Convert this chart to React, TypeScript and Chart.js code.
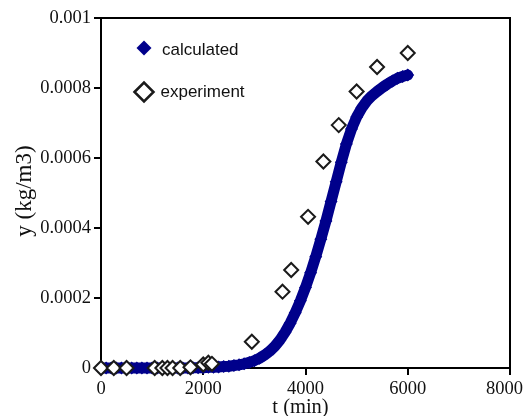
import { useEffect, useRef } from 'react';
import { Chart, registerables } from 'chart.js';

Chart.register(...registerables);

// ---- data ----
const tCalc = [
  0, 100, 200, 300, 400, 500, 600, 700, 800, 900,
  1000, 1100, 1200, 1300, 1400, 1500, 1600, 1700, 1800, 1900,
  2000, 2100, 2200, 2300, 2400, 2500, 2600, 2700, 2800, 2900,
  3000, 3100, 3200, 3300, 3400, 3500, 3600, 3700, 3800, 3900,
  4000, 4100, 4200, 4300, 4400, 4500, 4600, 4700, 4800, 4900,
  5000, 5100, 5200, 5300, 5400, 5500, 5600, 5700, 5800, 5900,
  6000,
];
const yCalc = [
  0, 0, 0, 0, 0, 0, 0, 0, 0, 0,
  0, 0, 0, 0, 0, 0, 0, 0, 0.000001, 0.000001,
  0.000001, 0.000002, 0.000002, 0.000003, 0.000004, 0.000005, 0.000007, 0.000009, 0.000012, 0.000016,
  0.000021, 0.000028, 0.000037, 0.000048, 0.000062, 0.00008, 0.000102, 0.000128, 0.000158, 0.000192,
  0.00023, 0.000272, 0.000318, 0.000368, 0.00042, 0.000476, 0.000532, 0.000588, 0.00064, 0.000683,
  0.000717, 0.000743, 0.000763, 0.000778, 0.00079, 0.000801, 0.000811, 0.00082, 0.000828, 0.000833,
  0.000837,
];
const tExp = [0, 250, 500, 1050, 1200, 1300, 1400, 1550, 1750, 2000, 2100, 2170, 2950, 3550, 3720, 4050, 4350, 4650, 5000, 5400, 6000];
const yExp = [0, 0, 0, 0, 0, 0, 0, 0, 0.000002, 0.00001, 0.000015, 0.000012, 0.000075, 0.000218, 0.00028, 0.000432, 0.00059, 0.000694, 0.00079, 0.00086, 0.0009];

const xTickValues = [0, 2000, 4000, 6000, 8000];
const seriesNames = ['calculated', 'experiment'];
const xTitle = 't (min)';
const yTitle = 'y (kg/m3)';

const NAVY = '#00008B';
const INK = '#111111';
const SERIF = '"Liberation Serif", "Times New Roman", serif';
const SANS = '"Liberation Sans", Arial, sans-serif';

const fmtY = (v: number) => String(+Number(v).toFixed(4));

const decorPlugin = {
  id: 'decor',
  beforeDatasetsDraw(chart: any) {
    const { ctx, chartArea: a } = chart;
    ctx.save();
    // top and right frame
    ctx.strokeStyle = '#000';
    ctx.lineWidth = 2;
    ctx.beginPath();
    ctx.moveTo(a.left, a.top);
    ctx.lineTo(a.right, a.top);
    ctx.lineTo(a.right, a.bottom);
    ctx.stroke();

    // x tick labels (kept inside canvas)
    const xs = chart.scales.x;
    ctx.font = `18.5px ${SERIF}`;
    ctx.fillStyle = INK;
    ctx.textAlign = 'center';
    ctx.textBaseline = 'middle';
    xTickValues.forEach((v) => {
      const label = String(v);
      const px = xs.getPixelForValue(v);
      const w = ctx.measureText(label).width;
      const cx = Math.min(px, chart.width - w / 2);
      ctx.fillText(label, cx, a.bottom + 21);
    });

    // axis titles
    ctx.font = `20.5px ${SERIF}`;
    ctx.fillText(xTitle, (a.left + a.right) / 2 - 5, a.bottom + 40);
    ctx.save();
    ctx.translate(25, (a.top + a.bottom) / 2 - 2);
    ctx.rotate(-Math.PI / 2);
    ctx.font = `23px ${SERIF}`;
    ctx.fillText(yTitle, 0, 0);
    ctx.restore();
    ctx.restore();
  },
  afterDatasetsDraw(chart: any) {
    const { ctx, chartArea: a } = chart;
    ctx.save();
    // calculated
    let cx = a.left + 43;
    let cy = a.top + 30;
    let r = 7.5;
    ctx.beginPath();
    ctx.moveTo(cx - r, cy);
    ctx.lineTo(cx, cy - r);
    ctx.lineTo(cx + r, cy);
    ctx.lineTo(cx, cy + r);
    ctx.closePath();
    ctx.fillStyle = NAVY;
    ctx.fill();
    ctx.font = `17px ${SANS}`;
    ctx.fillStyle = INK;
    ctx.textAlign = 'left';
    ctx.textBaseline = 'alphabetic';
    ctx.fillText(seriesNames[0], a.left + 61, a.top + 36.5);
    // experiment
    cx = a.left + 43;
    cy = a.top + 74;
    r = 9.5;
    ctx.beginPath();
    ctx.moveTo(cx - r, cy);
    ctx.lineTo(cx, cy - r);
    ctx.lineTo(cx + r, cy);
    ctx.lineTo(cx, cy + r);
    ctx.closePath();
    ctx.fillStyle = '#fff';
    ctx.fill();
    ctx.lineWidth = 2.5;
    ctx.strokeStyle = '#1a1a1a';
    ctx.stroke();
    ctx.fillStyle = INK;
    ctx.fillText(seriesNames[1], a.left + 59.5, a.top + 79);
    ctx.restore();
  },
};

export default function App() {
  const ref = useRef<HTMLCanvasElement | null>(null);

  useEffect(() => {
    document.body.style.margin = '0';
    const canvas = ref.current;
    if (!canvas) return;
    const chart = new Chart(canvas, {
      type: 'scatter',
      data: {
        datasets: [
          {
            label: seriesNames[1],
            data: tExp.map((t, i) => ({ x: t, y: yExp[i] })),
            showLine: false,
            pointStyle: 'rectRot',
            pointRadius: 7,
            pointHoverRadius: 7,
            pointBackgroundColor: '#ffffff',
            pointBorderColor: '#1a1a1a',
            pointBorderWidth: 2,
            order: 0,
            clip: false,
          } as any,
          {
            label: seriesNames[0],
            data: tCalc.map((t, i) => ({ x: t, y: yCalc[i] })),
            showLine: true,
            borderColor: NAVY,
            borderWidth: 11,
            borderJoinStyle: 'round',
            borderCapStyle: 'round',
            tension: 0,
            pointStyle: 'rectRot',
            pointRadius: 6.5,
            pointHoverRadius: 6.5,
            pointBackgroundColor: NAVY,
            pointBorderWidth: 0,
            order: 1,
            clip: false,
          } as any,
        ],
      },
      options: {
        responsive: false,
        animation: false,
        devicePixelRatio: 1,
        layout: { padding: { top: 18, right: 13, left: 0, bottom: 0 } },
        plugins: {
          legend: { display: false },
          tooltip: { enabled: false },
        },
        scales: {
          x: {
            type: 'linear',
            min: 0,
            max: 8000,
            ticks: { stepSize: 2000, color: 'rgba(0,0,0,0)', font: { size: 18, family: SERIF } },
            grid: { drawOnChartArea: false, drawTicks: true, tickLength: 7, color: '#000', lineWidth: 2 },
            border: { display: true, color: '#000', width: 2 },
            afterFit(s: any) {
              s.height = 48;
              s.paddingLeft = 0;
              s.paddingRight = 0;
            },
          },
          y: {
            type: 'linear',
            min: 0,
            max: 0.001,
            ticks: {
              stepSize: 0.0002,
              color: INK,
              padding: 3,
              font: { size: 18.5, family: SERIF },
              callback: (v: any) => fmtY(v),
            },
            grid: { drawOnChartArea: false, drawTicks: true, tickLength: 7, color: '#000', lineWidth: 2 },
            border: { display: true, color: '#000', width: 2 },
            afterFit(s: any) {
              s.width = 101;
              s.paddingTop = 0;
              s.paddingBottom = 0;
            },
          },
        },
      } as any,
      plugins: [decorPlugin],
    });
    return () => chart.destroy();
  }, []);

  return (
    <div style={{ position: 'absolute', left: 0, top: 0, width: 523, height: 416, background: '#fff' }}>
      <canvas ref={ref} width={523} height={416} style={{ display: 'block' }} />
    </div>
  );
}
